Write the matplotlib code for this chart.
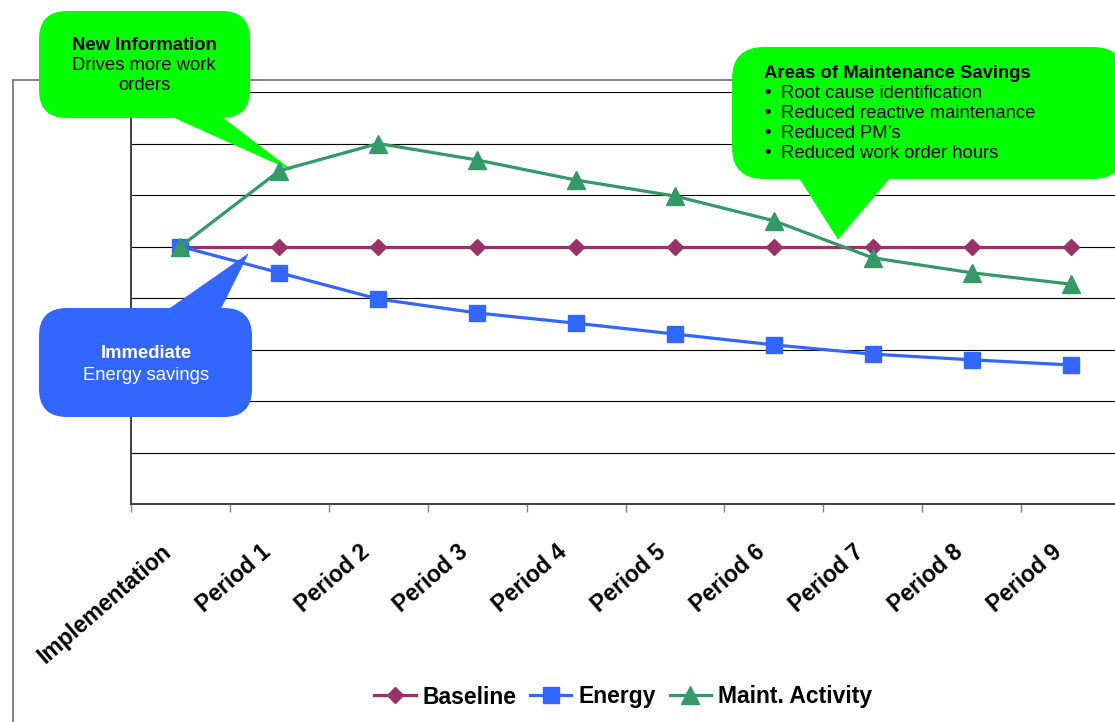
import matplotlib
matplotlib.use("Agg")
import matplotlib.pyplot as plt
import numpy as np
from matplotlib.patches import FancyBboxPatch, Polygon
from matplotlib.lines import Line2D
from matplotlib.transforms import Affine2D, ScaledTranslation, blended_transform_factory

plt.rcParams['font.family'] = ['Liberation Sans', 'DejaVu Sans']

# Chart data
periods = ["Implementation", "Period 1", "Period 2", "Period 3", "Period 4",
           "Period 5", "Period 6", "Period 7", "Period 8", "Period 9"]
baseline = [5, 5, 5, 5, 5, 5, 5, 5, 5, 5]
energy = [5, 4.49, 3.98, 3.71, 3.51, 3.30, 3.09, 2.91, 2.80, 2.70]
maint = [5, 6.47, 7.0, 6.68, 6.29, 5.98, 5.5, 4.78, 4.49, 4.27]

C_BASE = "#993366"
C_ENERGY = "#3366FF"
C_MAINT = "#339966"
C_CALLOUT = "#00FF00"

W, H, DPI = 1115, 722, 100
fig = plt.figure(figsize=(W / DPI, H / DPI), dpi=DPI)
ax = fig.add_axes([131 / W, (H - 504) / H, 989 / W, 412 / H])

# pixel coordinates measured from the top-left corner of the figure
px = Affine2D().scale(1 / DPI, -1 / DPI).translate(0, H / DPI) + fig.dpi_scale_trans

x = np.arange(len(periods))
ax.plot(x, baseline, color=C_BASE, lw=2.3, marker="D", ms=8.5, mec=C_BASE, zorder=3)
ax.plot(x, energy, color=C_ENERGY, lw=2.3, marker="s", ms=11, mec=C_ENERGY, zorder=4)
ax.plot(x, maint, color=C_MAINT, lw=2.3, marker="^", ms=13, mec=C_MAINT, zorder=5)

ax.set_xlim(-0.5, 9.5)
ax.set_ylim(0, 8)
ax.set_yticks(range(9))
ax.set_yticklabels([])
ax.tick_params(axis="y", length=0)
ax.grid(axis="y", color="black", lw=0.8)
ax.set_axisbelow(True)
ax.set_xticks(np.arange(-0.5, 10, 1))
ax.set_xticklabels([])
ax.tick_params(axis="x", length=6, width=1, color="#808080", direction="out")
for side in ("top", "right"):
    ax.spines[side].set_visible(False)
for side in ("left", "bottom"):
    ax.spines[side].set_color("#404040")
    ax.spines[side].set_linewidth(1.4)
    ax.spines[side].set_zorder(1)

# rotated category labels
lab_tr = blended_transform_factory(ax.transData, ax.transAxes) + \
    ScaledTranslation(-12 / DPI, -45 / DPI, fig.dpi_scale_trans)
for i, name in enumerate(periods):
    ax.text(i, 0, name, transform=lab_tr, rotation=41, rotation_mode="anchor",
            ha="right", va="center", fontsize=16.5, fontweight="bold", clip_on=False)

# outer chart frame
for xs, ys in [([13, 13], [80, 730]), ([13, 1120], [80, 80])]:
    ax.add_line(Line2D(xs, ys, transform=px, color="#707070", lw=1.2,
                       clip_on=False, zorder=0.6))


def callout(x0, y0, x1, y1, rad, tail, color):
    box = FancyBboxPatch((x0 + rad, y0 + rad), (x1 - x0) - 2 * rad, (y1 - y0) - 2 * rad,
                         boxstyle=f"round,pad={rad},rounding_size={rad}",
                         transform=px, fc=color, ec="none", clip_on=False, zorder=1.5)
    ax.add_patch(box)
    ax.add_patch(Polygon(tail, closed=True, transform=px, fc=color, ec=color,
                         lw=0.5, clip_on=False, zorder=1.5))


callout(39, 11, 250, 118, 28, [(162, 112), (215, 112), (291, 170)], C_CALLOUT)
callout(732, 47, 1125, 179, 32, [(797, 174), (893, 174), (838, 239)], C_CALLOUT)
callout(39, 308, 252, 417, 28, [(162, 314), (218, 314), (248, 254)], C_ENERGY)

fs = 13.3
ax.text(144, 46, "New Information", transform=px, ha="center", va="center",
        fontsize=fs, fontweight="bold", zorder=1.6, clip_on=False)
ax.text(144, 66, "Drives more work", transform=px, ha="center", va="center",
        fontsize=fs, zorder=1.6, clip_on=False)
ax.text(144, 86, "orders", transform=px, ha="center", va="center",
        fontsize=fs, zorder=1.6, clip_on=False)

ax.text(764, 74, "Areas of Maintenance Savings", transform=px, ha="left", va="center",
        fontsize=fs, fontweight="bold", zorder=1.6, clip_on=False)
bullets = ["Root cause identification", "Reduced reactive maintenance",
           "Reduced PM\u2019s", "Reduced work order hours"]
for k, b in enumerate(bullets):
    yy = 94 + 20 * k
    ax.text(764, yy, "\u2022", transform=px, ha="left", va="center",
            fontsize=fs, zorder=1.6, clip_on=False)
    ax.text(781, yy, b, transform=px, ha="left", va="center",
            fontsize=fs, zorder=1.6, clip_on=False)

ax.text(146, 354, "Immediate", transform=px, ha="center", va="center", color="white",
        fontsize=fs, fontweight="bold", zorder=1.6, clip_on=False)
ax.text(146, 375, "Energy savings", transform=px, ha="center", va="center", color="white",
        fontsize=fs, zorder=1.6, clip_on=False)

# legend
handles = [
    Line2D([], [], color=C_BASE, lw=2.3, marker="D", ms=8.5, mec=C_BASE),
    Line2D([], [], color=C_ENERGY, lw=2.3, marker="s", ms=11, mec=C_ENERGY),
    Line2D([], [], color=C_MAINT, lw=2.3, marker="^", ms=13, mec=C_MAINT),
]
fig.legend(handles, ["Baseline", "Energy", "Maint. Activity"], loc="center",
           bbox_to_anchor=(623 / W, 1 - 697 / H), ncol=3, frameon=False,
           prop={"size": 16.5, "weight": "bold"}, handlelength=1.8,
           handletextpad=0.3, columnspacing=0.6, borderpad=0)

fig.savefig("out.png", dpi=DPI)
